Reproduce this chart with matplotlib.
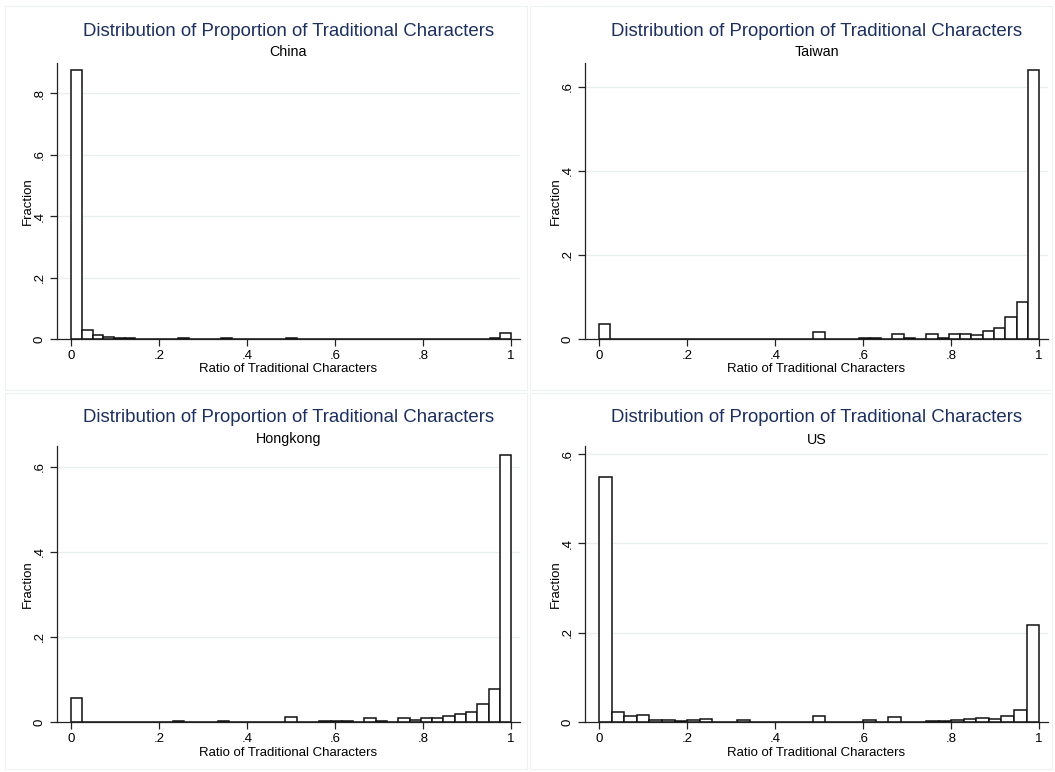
import numpy as np
import matplotlib
matplotlib.use("Agg")
import matplotlib.pyplot as plt
from matplotlib.patches import Rectangle

plt.rcParams['font.family'] = ['Liberation Sans', 'DejaVu Sans']

title = "Distribution of Proportion of Traditional Characters"
xlabel = "Ratio of Traditional Characters"
ylabel = "Fraction"

panels = ["China", "Taiwan", "Hongkong", "US"]

china = [0.875, 0.029, 0.012, 0.0065, 0.003, 0.002, 0.0015, 0.001, 0.001, 0.001,
         0.003, 0.0005, 0.0005, 0.0005, 0.002, 0.0005, 0.0005, 0.0005, 0.0005, 0.0005,
         0.003] + [0.0003] * 18 + [0.002, 0.0195]

taiwan = [0.035, 0, 0, 0, 0, 0, 0, 0, 0, 0.001,
          0, 0, 0, 0.001, 0, 0, 0, 0, 0, 0.0175,
          0, 0, 0.001, 0.002, 0.0015, 0.0005, 0.0127, 0.0015, 0.001, 0.011,
          0.0016, 0.011, 0.0127, 0.0103, 0.020, 0.027, 0.0516, 0.088, 0.64]

hongkong = [0.0557, 0.001, 0, 0.001, 0, 0, 0, 0, 0, 0.002,
            0, 0, 0, 0.002, 0, 0.001, 0, 0, 0, 0.0118,
            0, 0.001, 0.0015, 0.003, 0.0015, 0.001, 0.010, 0.003, 0.001, 0.010,
            0.004, 0.010, 0.0094, 0.014, 0.0196, 0.0227, 0.043, 0.078, 0.628]

us = [0.548, 0.0224, 0.0134, 0.015, 0.0052, 0.0052, 0.003, 0.0045, 0.0075, 0.0005,
      0.0005, 0.005, 0, 0.001, 0.001, 0.001, 0.001, 0.0142, 0, 0,
      0.0005, 0.0037, 0, 0.0104, 0.0005, 0, 0.003, 0.0015, 0.0037, 0.006,
      0.0082, 0.006, 0.0142, 0.026, 0.217]

series = [china, taiwan, hongkong, us]
yticks = [[0, .2, .4, .6, .8], [0, .2, .4, .6], [0, .2, .4, .6], [0, .2, .4, .6]]
ytop = [0.899, 0.657, 0.649, 0.618]
xticks = [0, .2, .4, .6, .8, 1]

def fmt(v):
    if v == 0:
        return "0"
    if v == 1:
        return "1"
    return ("%.1f" % v).lstrip("0")

W, H = 1055, 772
fig = plt.figure(figsize=(W / 100, H / 100), dpi=100)
fig.patch.set_facecolor("white")

# panel frames (pixel boxes: left, top, right, bottom)
frames = [(5, 6, 527, 390), (530, 6, 1052, 390), (5, 393, 527, 769), (530, 393, 1052, 769)]
for (l, t, r, b) in frames:
    fig.patches.append(Rectangle((l / W, 1 - b / H), (r - l) / W, (b - t) / H,
                                 transform=fig.transFigure, fill=False,
                                 edgecolor="#edf2f4", linewidth=0.8))

# axes boxes (pixels): left, top, right, bottom
boxes = [(57, 63, 520, 339), (585, 63, 1048, 339), (57, 446, 520, 722), (585, 446, 1048, 722)]
title_color = "#1c2f5e"
axis_color = "#222222"

for i, (name, vals) in enumerate(zip(panels, series)):
    l, t, r, b = boxes[i]
    ax = fig.add_axes([l / W, 1 - b / H, (r - l) / W, (b - t) / H])
    k = len(vals)
    edges = np.linspace(0, 1, k + 1)
    ax.bar(edges[:-1], vals, width=1 / k, align="edge", facecolor="white",
           edgecolor="#111111", linewidth=1.1, zorder=3)
    ax.set_xlim(-0.032, 1.02)
    ax.set_ylim(0, ytop[i])
    ax.set_yticks(yticks[i])
    ax.set_yticklabels([fmt(v) for v in yticks[i]], rotation=90, va="center", fontsize=9.5)
    ax.set_xticks(xticks)
    ax.set_xticklabels([fmt(v) for v in xticks], fontsize=9.5)
    for v in yticks[i][1:]:
        ax.axhline(v, color="#e8eff1", linewidth=0.9, zorder=1)
    for s in ["top", "right"]:
        ax.spines[s].set_visible(False)
    for s in ["left", "bottom"]:
        ax.spines[s].set_color(axis_color)
        ax.spines[s].set_linewidth(0.9)
        ax.spines[s].set_zorder(4)
    ax.tick_params(axis="both", direction="out", length=5, width=0.9, color=axis_color,
                   labelcolor="black", pad=3)
    ax.set_xlabel(xlabel, fontsize=9.5, labelpad=1)
    ax.set_ylabel(ylabel, fontsize=9.5, labelpad=0)
    ax.patch.set_alpha(0)
    cx = (l + r) / 2 / W
    top_px = frames[i][1]
    ax.text(cx, 1 - (top_px + 25) / H, title, transform=fig.transFigure,
            ha="center", va="center", fontsize=13.4, color=title_color)
    ax.text(cx, 1 - (top_px + 46.5) / H, name, transform=fig.transFigure,
            ha="center", va="center", fontsize=10.3, color="black")

fig.savefig("out.png", dpi=100, facecolor="white")
